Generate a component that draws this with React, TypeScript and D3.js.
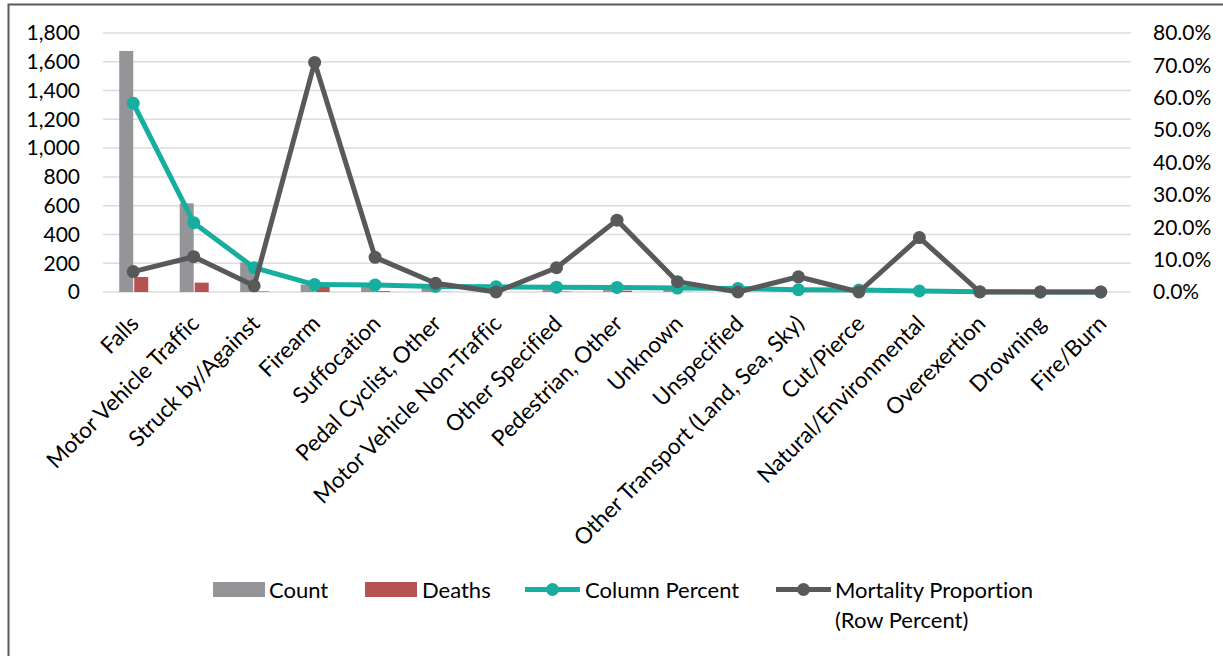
import React from "react";
import * as d3 from "d3";

// Injury mechanisms, sorted by count
const categories = [
  "Falls",
  "Motor Vehicle Traffic",
  "Struck by/Against",
  "Firearm",
  "Suffocation",
  "Pedal Cyclist, Other",
  "Motor Vehicle Non-Traffic",
  "Other Specified",
  "Pedestrian, Other",
  "Unknown",
  "Unspecified",
  "Other Transport (Land, Sea, Sky)",
  "Cut/Pierce",
  "Natural/Environmental",
  "Overexertion",
  "Drowning",
  "Fire/Burn",
];
const countValues = [1675, 616, 206, 52, 58, 46, 45, 43, 40, 34, 31, 21, 17, 6, 3, 1, 1];
const deathValues = [104, 65, 4, 37, 6, 1, 0, 3, 9, 1, 0, 1, 0, 1, 0, 0, 0];
const columnPercent = [58.3, 21.4, 7.5, 2.3, 2.2, 1.7, 1.6, 1.5, 1.4, 1.2, 1.1, 0.7, 0.6, 0.3, 0.1, 0.03, 0.03];
const mortalityPercent = [6.3, 10.9, 1.9, 70.9, 10.7, 2.7, 0, 7.5, 22.2, 3.2, 0, 4.7, 0, 16.8, 0, 0, 0];
const countTicks = [0, 200, 400, 600, 800, 1000, 1200, 1400, 1600, 1800];
const percentTicks = [0, 10, 20, 30, 40, 50, 60, 70, 80];

const W = 1223;
const H = 656;
const plot = { left: 103, right: 1131, top: 33, bottom: 292 };

const COLORS = {
  count: "#939598",
  deaths: "#b65352",
  column: "#17ae9f",
  mortality: "#58595b",
  grid: "#dcdcdc",
  text: "#000000",
  frame: "#5a5a5a",
};

const FONT = "Lato, 'Open Sans', sans-serif";
const TICK_SIZE = 21;
const LABEL_SIZE = 22.5;

export default function App() {
  const x = d3
    .scaleBand<string>()
    .domain(categories)
    .range([plot.left, plot.right]);
  const cx = (c: string) => (x(c) as number) + x.bandwidth() / 2;
  const yCount = d3.scaleLinear().domain([0, 1800]).range([plot.bottom, plot.top]);
  const yPct = d3.scaleLinear().domain([0, 80]).range([plot.bottom, plot.top]);

  const barW = 14;
  const fmtCount = d3.format(",");
  const fmtPct = (v: number) => v.toFixed(1) + "%";

  const colLine = d3
    .line<number>()
    .x((_, i) => cx(categories[i]))
    .y((v) => yPct(v))(columnPercent) as string;
  const morLine = d3
    .line<number>()
    .x((_, i) => cx(categories[i]))
    .y((v) => yPct(v))(mortalityPercent) as string;

  const r = 6.5;
  const lw = 5;

  return (
    <div style={{ position: "absolute", left: 0, top: 0 }}>
      <svg
        width={W}
        height={H}
        style={{ display: "block", background: "#fff", fontVariantLigatures: "none" }}
        fontFamily={FONT}
      >
        {/* frame */}
        <path d={`M8.5,${H} V4.5 H${W}`} fill="none" stroke={COLORS.frame} strokeWidth={2} />

        {/* gridlines */}
        {countTicks.map((t) => (
          <line
            key={"g" + t}
            x1={plot.left}
            x2={plot.right}
            y1={yCount(t)}
            y2={yCount(t)}
            stroke={COLORS.grid}
            strokeWidth={1.5}
          />
        ))}

        {/* left axis labels */}
        {countTicks.map((t) => (
          <text
            key={"l" + t}
            x={80}
            y={yCount(t)}
            dy="0.35em"
            textAnchor="end"
            fontSize={TICK_SIZE}
            fill={COLORS.text}
          >
            {fmtCount(t)}
          </text>
        ))}

        {/* right axis labels */}
        {percentTicks.map((t) => (
          <text
            key={"r" + t}
            x={1153}
            y={yPct(t)}
            dy="0.35em"
            textAnchor="start"
            fontSize={TICK_SIZE}
            fill={COLORS.text}
          >
            {fmtPct(t)}
          </text>
        ))}

        {/* bars */}
        {categories.map((c, i) => (
          <g key={"b" + c}>
            <rect
              x={cx(c) - barW}
              y={yCount(countValues[i])}
              width={barW}
              height={plot.bottom - yCount(countValues[i])}
              fill={COLORS.count}
            />
            <rect
              x={cx(c) + 1}
              y={yCount(deathValues[i])}
              width={barW}
              height={plot.bottom - yCount(deathValues[i])}
              fill={COLORS.deaths}
            />
          </g>
        ))}

        {/* column percent line */}
        <path d={colLine} fill="none" stroke={COLORS.column} strokeWidth={lw} strokeLinejoin="round" />
        {columnPercent.map((v, i) => (
          <circle key={"cp" + i} cx={cx(categories[i])} cy={yPct(v)} r={r} fill={COLORS.column} />
        ))}

        {/* mortality proportion line */}
        <path d={morLine} fill="none" stroke={COLORS.mortality} strokeWidth={lw} strokeLinejoin="round" />
        {mortalityPercent.map((v, i) => (
          <circle key={"mp" + i} cx={cx(categories[i])} cy={yPct(v)} r={r} fill={COLORS.mortality} />
        ))}

        {/* category labels */}
        {categories.map((c) => (
          <text
            key={"c" + c}
            transform={`translate(${cx(c) + 7},${325}) rotate(-45)`}
            textAnchor="end"
            fontSize={LABEL_SIZE}
            fill={COLORS.text}
          >
            {c}
          </text>
        ))}

        {/* legend */}
        <g fontSize={22} fill={COLORS.text}>
          <rect x={213} y={582} width={52} height={15} fill={COLORS.count} />
          <text x={269} y={590} dy="0.35em">Count</text>

          <rect x={365} y={582} width={52} height={15} fill={COLORS.deaths} />
          <text x={422} y={590} dy="0.35em">Deaths</text>

          <line x1={525} x2={580} y1={589.5} y2={589.5} stroke={COLORS.column} strokeWidth={lw} />
          <circle cx={552.5} cy={589.5} r={r} fill={COLORS.column} />
          <text x={585} y={590} dy="0.35em">Column Percent</text>

          <line x1={776} x2={831} y1={589.5} y2={589.5} stroke={COLORS.mortality} strokeWidth={lw} />
          <circle cx={803.5} cy={589.5} r={r} fill={COLORS.mortality} />
          <text x={835} y={590} dy="0.35em">Mortality Proportion</text>
          <text x={835} y={620} dy="0.35em">(Row Percent)</text>
        </g>
      </svg>
    </div>
  );
}
